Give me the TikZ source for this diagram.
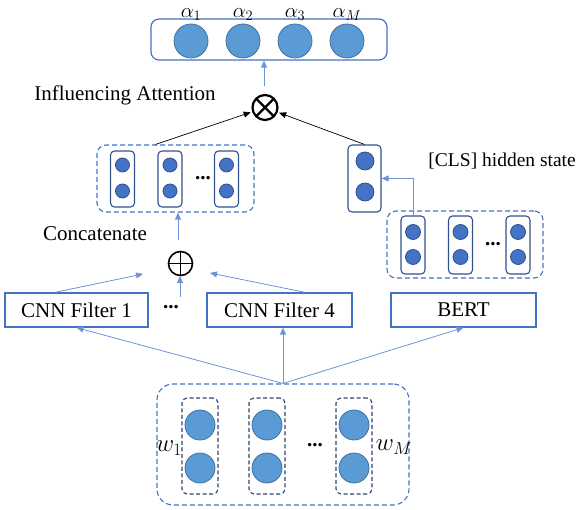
\documentclass[tikz,border=0pt]{standalone}
\usepackage{fontspec}
\setmainfont{Liberation Serif}
\usetikzlibrary{arrows.meta}
\definecolor{cbox}{HTML}{4472C4}
\definecolor{cdark}{HTML}{2F528F}
\definecolor{clight}{HTML}{5B9BD5}
\definecolor{clightedge}{HTML}{41719C}
\definecolor{carrow}{HTML}{6E93D6}
\definecolor{cnavy}{HTML}{2E4470}
\tikzset{
  txt/.style={font=\fontsize{21}{25}\selectfont, inner sep=0pt},
  mtxt/.style={font=\fontsize{25}{29}\selectfont, inner sep=0pt},
  atxt/.style={font=\fontsize{22}{24}\selectfont, inner sep=0pt},
  rectbox/.style={draw=cbox, line width=1.3pt, fill=white, minimum height=34pt, inner sep=0pt, font=\fontsize{21}{25}\selectfont},
  dashbox/.style={draw=cbox, dashed, dash pattern=on 5pt off 3pt, line width=1.1pt, rounded corners=9pt, inner sep=0pt},
  innerdash/.style={draw=cnavy, dashed, dash pattern=on 4pt off 2.5pt, line width=1.1pt, rounded corners=5pt, inner sep=0pt, minimum width=36pt, minimum height=96pt},
  innerbox/.style={draw=cdark, line width=1.1pt, rounded corners=4pt, inner sep=0pt, minimum width=24pt},
  bigdot/.style={circle, draw=clightedge, fill=clight, line width=0.8pt, inner sep=0pt},
  middot/.style={circle, draw=cdark, fill=cbox, line width=0.8pt, inner sep=0pt},
  barrow/.style={draw=carrow, line width=0.8pt, -{Triangle[length=7pt,width=6pt]}},
  karrow/.style={draw=black, line width=0.7pt, -{Triangle[length=7pt,width=6pt]}, shorten >=1.5pt},
  otimesnode/.style={circle, draw, line width=2.2pt, minimum size=25pt, inner sep=0pt,
    path picture={\draw[line width=2.2pt] (path picture bounding box.north west) -- (path picture bounding box.south east)
      (path picture bounding box.north east) -- (path picture bounding box.south west);}},
  oplusnode/.style={circle, draw, line width=1.6pt, minimum size=24pt, inner sep=0pt,
    path picture={\draw[line width=1.6pt] (path picture bounding box.north) -- (path picture bounding box.south)
      (path picture bounding box.east) -- (path picture bounding box.west);}}
}
\begin{document}
\begin{tikzpicture}[x=1pt, y=-1pt]
\useasboundingbox (0,0) rectangle (578,510);

% top attention box
\node[draw=cbox, line width=1.2pt, rounded corners=8pt, minimum width=236pt, minimum height=41pt, inner sep=0pt] (topbox) at (269,39.5) {};
\foreach \x/\n/\l in {191/a1/{\alpha_1}, 243/a2/{\alpha_2}, 295/a3/{\alpha_3}, 347/aM/{\alpha_M}} {
  \node[bigdot, minimum size=34pt] (\n) at (\x,41) {};
  \node[atxt, anchor=base] (\n lab) at (\x,17.5) {$\l$};
}

% otimes
\node[otimesnode] (otimes) at (265,107.5) {};
\coordinate (otop) at (264,86);
\draw[barrow] (otop) -- (otop |- topbox.south);
\node[txt, anchor=base] (infl) at (125,101) {Influencing Attention};

% left concatenated box
\node[dashbox, minimum width=157pt, minimum height=67pt] (lbox) at (175.5,178.5) {};
\foreach \x/\n in {122.5/l1, 170/l2, 226.5/l3} {
  \node[innerbox, minimum height=56pt] (\n) at (\x,179) {};
  \node[middot, minimum size=14pt] (\n u) at (\x,165) {};
  \node[middot, minimum size=14pt] (\n d) at (\x,191) {};
}
\node[txt] (ldots) at (203,178) {\textbf{...}};

% right CLS box
\node[innerbox, minimum width=33pt, minimum height=67pt] (rbox) at (364.5,178.5) {};
\node[middot, minimum size=18pt] (rbu) at (365,161) {};
\node[middot, minimum size=18pt] (rbd) at (365,192) {};
\node[inner sep=0pt, font=\fontsize{19.5}{23}\selectfont, anchor=base east] (cls) at (576,167) {[CLS] hidden state};

% BERT hidden states
\node[dashbox, minimum width=156pt, minimum height=67pt] (rdash) at (465,244.5) {};
\foreach \x/\n in {413/rb1, 460.5/rb2, 518/rb3} {
  \node[innerbox, minimum height=58pt] (\n) at (\x,245) {};
  \node[middot, minimum size=15pt] (\n u) at (\x,232) {};
  \node[middot, minimum size=15pt] (\n d) at (\x,257) {};
}
\node[txt] (rdots) at (493,244) {\textbf{...}};
\draw[barrow] (rb1.north) |- (rbox.east);

% black arrows to otimes
\draw[karrow] ([xshift=-20pt]lbox.north) -- (otimes);
\draw[karrow] (rbox.north) -- (otimes);

% oplus
\node[oplusnode] (oplus) at (180.5,263.5) {};
\node[txt, anchor=base] (concat) at (95,241) {Concatenate};
\coordinate (cq) at (178,240);
\draw[barrow] (cq) -- (cq |- lbox.south);

% CNN / BERT boxes
\node[rectbox, minimum width=143pt] (cnn1) at (76.5,310) {CNN Filter 1};
\node[rectbox, minimum width=145pt] (cnn4) at (279.5,310) {CNN Filter 4};
\node[rectbox, minimum width=145pt] (bert) at (463.5,310) {BERT};
\node[txt] (cdots) at (171,307) {\textbf{...}};

\coordinate (p1) at (143,274);
\coordinate (p2) at (210,273);
\coordinate (pm0) at (180,297);
\coordinate (pm1) at (180,276);
\draw[barrow] ([xshift=-21.5pt]cnn1.north) -- (p1);
\draw[barrow] ([xshift=25.5pt]cnn4.north) -- (p2);
\draw[barrow] (pm0) -- (pm1);

% bottom word embeddings
\node[dashbox, rounded corners=16pt, minimum width=252pt, minimum height=121pt] (bot) at (283,444.5) {};
\foreach \x/\n in {200/w1, 267/w2, 354/w3} {
  \node[innerdash] (\n) at (\x,446) {};
  \node[bigdot, minimum size=30pt] (\n u) at (\x,425) {};
  \node[bigdot, minimum size=30pt] (\n d) at (\x,468) {};
}
\node[txt] (bdots) at (315,445) {\textbf{...}};
\node[mtxt] (w1lab) at (169,448) {$w_1$};
\node[mtxt] (wMlab) at (394,447) {$w_M$};

\draw[barrow] (bot.north) -- (cnn1.south);
\draw[barrow] (bot.north) -- (bot.north |- cnn4.south);
\draw[barrow] (bot.north) -- (bert.south);
\end{tikzpicture}
\end{document}
